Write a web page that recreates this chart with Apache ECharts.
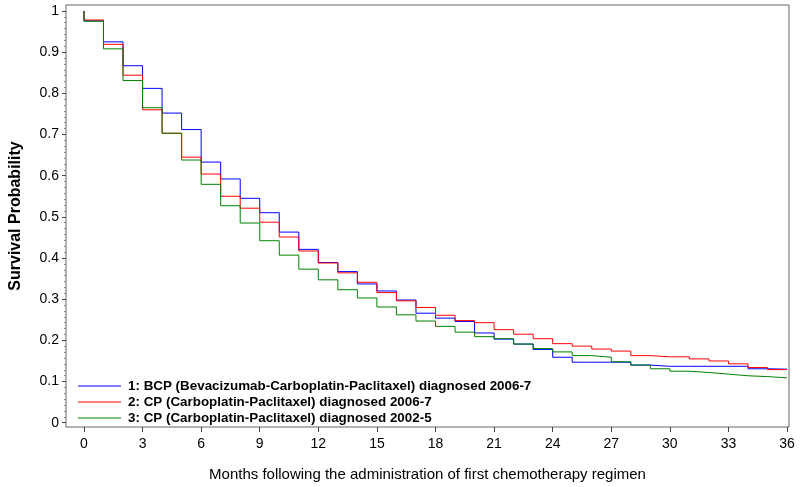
<!DOCTYPE html>
<html><head><meta charset="utf-8">
<script src="https://cdn.jsdelivr.net/npm/echarts@6/dist/echarts.min.js"></script>
<style>html,body{margin:0;padding:0;background:#fff}#c{width:800px;height:487px}</style>
</head><body><div id="c"></div>
<script>
// Month interval starts (value holds on [m, m+1))
const months = [0,1,2,3,4,5,6,7,8,9,10,11,12,13,14,15,16,17,18,19,20,21,22,23,24,25,26,27,28,29,30,31,32,33,34,35];
const endMonth = 36;
const startProb = 1;
const xTicks = [0,3,6,9,12,15,18,21,24,27,30,33,36];
const yTicks = [0,0.1,0.2,0.3,0.4,0.5,0.6,0.7,0.8,0.9,1];
const seriesNames = [
  '1: BCP (Bevacizumab-Carboplatin-Paclitaxel) diagnosed 2006-7',
  '2: CP (Carboplatin-Paclitaxel) diagnosed 2006-7',
  '3: CP (Carboplatin-Paclitaxel) diagnosed 2002-5'
];
const bcp0607 = [0.976,0.925,0.867,0.812,0.752,0.712,0.633,0.592,0.545,0.510,0.463,0.421,0.389,0.367,0.337,0.320,0.298,0.266,0.254,0.246,0.218,0.203,0.191,0.178,0.159,0.147,0.147,0.147,0.140,0.137,0.137,0.137,0.137,0.137,0.131,0.130];
const cp0607  = [0.978,0.919,0.844,0.760,0.703,0.645,0.604,0.550,0.521,0.487,0.451,0.417,0.388,0.364,0.341,0.316,0.296,0.280,0.261,0.248,0.243,0.226,0.215,0.204,0.192,0.186,0.179,0.174,0.163,0.160,0.160,0.155,0.150,0.143,0.134,0.129];
const cp0205  = [0.975,0.908,0.831,0.765,0.703,0.638,0.579,0.527,0.485,0.442,0.407,0.373,0.347,0.323,0.303,0.281,0.262,0.247,0.234,0.220,0.209,0.204,0.191,0.180,0.172,0.163,0.159,0.148,0.140,0.131,0.125,0.122,0.118,0.114,0.112,0.109];
const colors = ['#0000ff','#ff0000','#008000'];

function km(vals){
  const d = [[months[0], startProb]];
  months.forEach((m,i)=>d.push([m, vals[i]]));
  d.push([endMonth, vals[vals.length-1]]);
  return d;
}
const minorTicks = [];
for (let i=0;i<yTicks.length-1;i++){
  for (let k=1;k<7;k++) minorTicks.push(yTicks[i] + (yTicks[i+1]-yTicks[i])*k/7);
}
const FF = "'Liberation Sans', Arial, sans-serif";
const chart = echarts.init(document.getElementById('c'));
chart.setOption({
  animation:false,
  backgroundColor:'#fff',
  grid:{left:56,right:11,top:5,bottom:59,show:true,borderColor:'#666',borderWidth:1,containLabel:false},
  legend:{
    orient:'vertical',left:73,top:373,itemWidth:43,itemHeight:1,itemGap:0,icon:'rect',
    data:seriesNames,
    textStyle:{fontFamily:FF,fontSize:13.4,fontWeight:'bold',color:'#000',lineHeight:16,padding:[0,0,0,2]}
  },
  xAxis:{
    type:'value',min:-0.92,max:36.1,
    name:'Months following the administration of first chemotherapy regimen',
    nameLocation:'middle',nameGap:40,
    nameTextStyle:{fontFamily:FF,fontSize:15,color:'#000'},
    axisLine:{show:false,onZero:false},
    axisTick:{show:true,length:5,lineStyle:{color:'#444'},customValues:xTicks},
    axisLabel:{fontFamily:FF,fontSize:14,color:'#000',margin:10,customValues:xTicks},
    splitLine:{show:false}
  },
  yAxis:[{
    type:'value',min:-0.0104,max:1.0145,
    name:'Survival Probability',nameLocation:'middle',nameGap:42,nameRotate:90,
    nameTextStyle:{fontFamily:FF,fontSize:16,fontWeight:'bold',color:'#000'},
    axisLine:{show:false,onZero:false},
    axisTick:{show:true,length:4,lineStyle:{color:'#444'},customValues:yTicks},
    axisLabel:{fontFamily:FF,fontSize:14,color:'#000',margin:7,customValues:yTicks,
      formatter:v=>String(+(+v).toFixed(2))},
    splitLine:{show:false}
  },{
    type:'value',min:-0.0104,max:1.0145,position:'left',
    axisLine:{show:false,onZero:false},
    axisTick:{show:true,length:2,lineStyle:{color:'#888'},customValues:minorTicks},
    axisLabel:{show:false},splitLine:{show:false}
  }],
  series:[bcp0607,cp0607,cp0205].map((v,i)=>({
    name:seriesNames[i],type:'line',step:'end',symbol:'none',showSymbol:false,
    data:km(v),color:colors[i],lineStyle:{width:1,color:colors[i]},itemStyle:{color:colors[i]}
  }))
});
</script>
</body></html>
